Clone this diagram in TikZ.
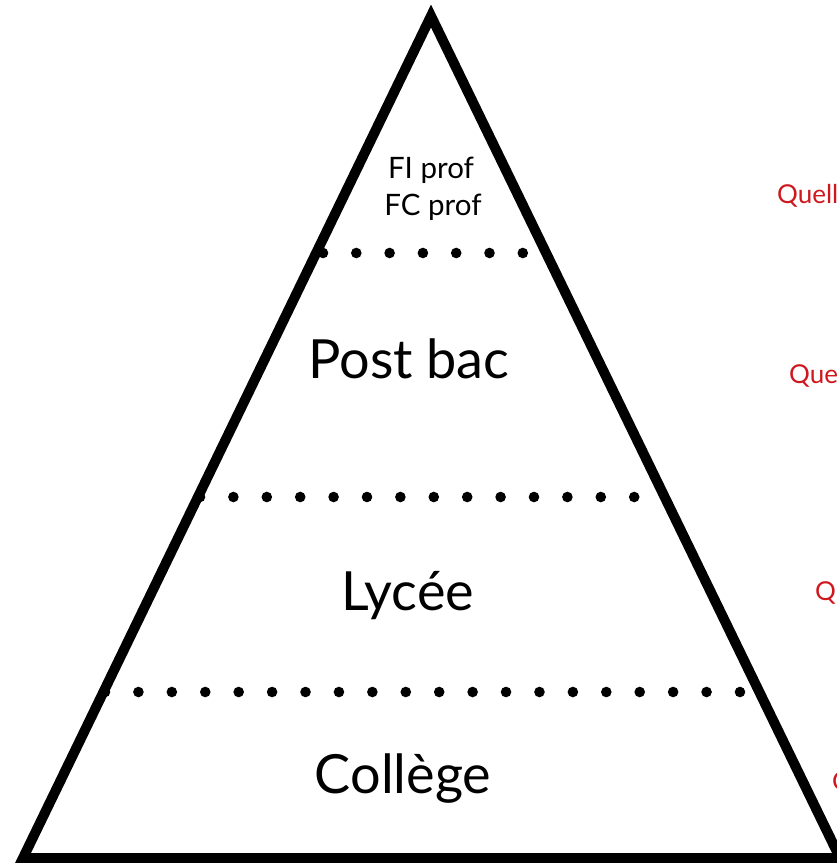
\documentclass[tikz,border=0pt]{standalone}
\usepackage{fontspec}
\setmainfont{Lato}
\definecolor{qred}{RGB}{206,24,30}
\begin{document}
\begin{tikzpicture}[x=1pt,y=-1pt,
  edge/.style={line width=10pt, line join=miter, miter limit=20},
  dotmark/.style={fill=black, draw=none},
  level/.style={anchor=base, inner sep=0pt, font=\fontsize{54}{62}\selectfont},
  small/.style={anchor=base, inner sep=0pt, font=\fontsize{29.5}{35}\selectfont},
  question/.style={anchor=base west, inner sep=0pt, text=qred, font=\fontsize{26}{30}\selectfont}]
\useasboundingbox (0,0) rectangle (837,863);
\clip (0,0) rectangle (837,863);
\coordinate (apex) at (431,16);
\coordinate (bl) at (23,858);
\coordinate (br) at (840,858);
\draw[edge] (apex) -- (bl) -- (br) -- cycle;
% dotted separators
\foreach \i in {0,...,6} \fill[dotmark] (323+33.3*\i,253) circle (5.3);
\foreach \i in {0,...,13} \fill[dotmark] (200+33.4*\i,497) circle (5.3);
\foreach \i in {0,...,19} \fill[dotmark] (105+33.42*\i,692) circle (5.3);
% labels
\node[small] (fi) at (431,178) {FI prof};
\node[small] (fc) at (433,215) {FC prof};
\node[level] (postbac) at (409,378) {Post bac};
\node[level] (lycee) at (408,610) {Lycée};
\node[level] (college) at (403,793) {Collège};
% red questions (cut off at the right edge, as in the reference)
\node[question] (q1) at (777,203) {Quell};
\node[question] (q2) at (789,383) {Que};
\node[question] (q3) at (815,600) {Qu};
\node[question] (q4) at (832,790) {Q};
\end{tikzpicture}
\end{document}
